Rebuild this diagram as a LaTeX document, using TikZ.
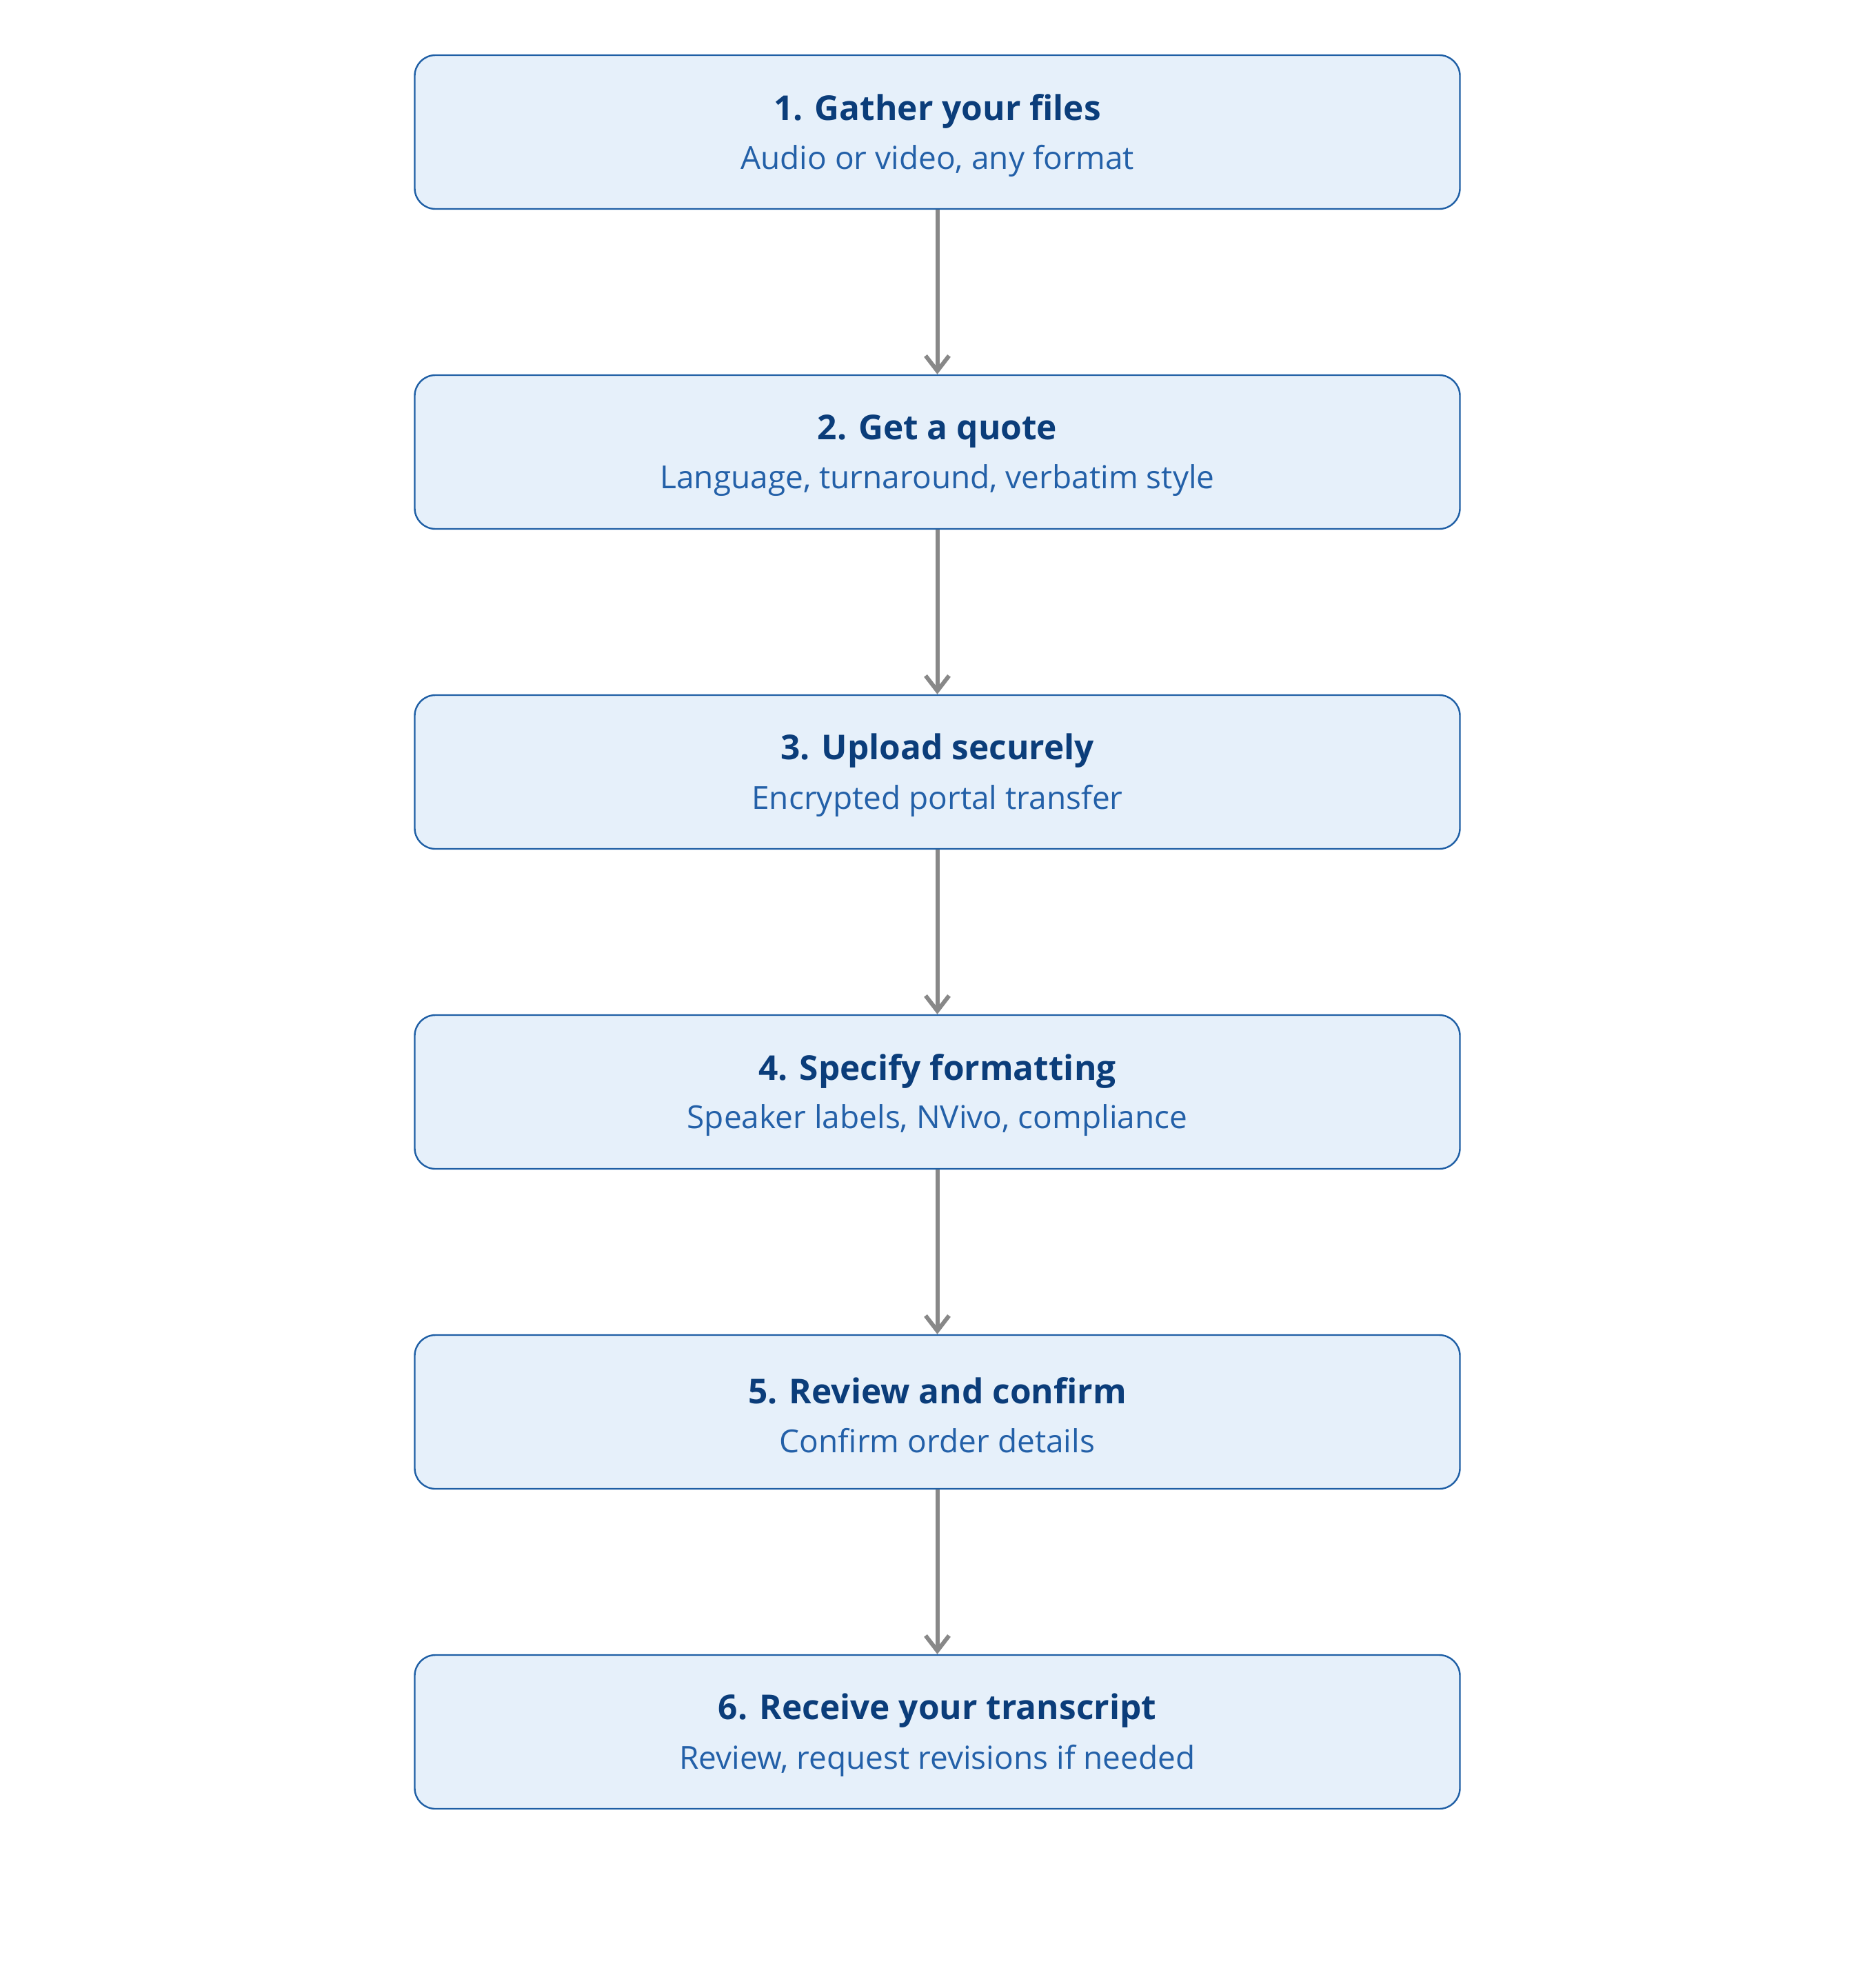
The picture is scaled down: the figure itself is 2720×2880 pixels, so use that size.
\documentclass[tikz,border=0pt]{standalone}
\usepackage{fontspec}
\setmainfont{Open Sans}
\usetikzlibrary{arrows.meta}
\definecolor{boxfill}{HTML}{E6F0FA}
\definecolor{boxdraw}{HTML}{1F5FA5}
\definecolor{titleblue}{HTML}{0B3D7A}
\definecolor{subblue}{HTML}{2360A8}
\definecolor{arrowgray}{HTML}{888888}
\begin{document}
\begin{tikzpicture}[x=0.25pt, y=-0.25pt]
      \tikzset{step box/.style={rectangle, rounded corners=7.5pt, draw=boxdraw, line width=0.6pt,
          fill=boxfill, minimum width=379pt, minimum height=55.75pt, align=center, inner sep=0pt},
        step title/.style={font=\fontsize{12.4}{15}\selectfont\bfseries, text=titleblue},
        step sub/.style={font=\fontsize{11.5}{14}\selectfont, text=subblue},
        flow arrow/.style={draw=arrowgray, line width=1.5pt, -{Straight Barb[length=5.5pt, width=8.5pt, line width=1.5pt]}}}

      % Canvas
      \useasboundingbox (0, 0) rectangle (2720, 2880);

      % Step boxes
      \node[step box] (gather) at (1359.5, 191.5) {};
      \node[step box] (quote) at (1359.5, 655.5) {};
      \node[step box] (upload) at (1359.5, 1119.5) {};
      \node[step box] (format) at (1359.5, 1583.5) {};
      \node[step box] (review) at (1359.5, 2047.5) {};
      \node[step box] (receive) at (1359.5, 2511.5) {};

      % Titles and subtitles
      \node[step title] (gather_t) at (1359.5, 161) {1. Gather your files};
      \node[step sub] (gather_s) at (1359.5, 233) {Audio or video, any format};
      \node[step title] (quote_t) at (1359.5, 625) {2. Get a quote};
      \node[step sub] (quote_s) at (1359.5, 697) {Language, turnaround, verbatim style};
      \node[step title] (upload_t) at (1359.5, 1089) {3. Upload securely};
      \node[step sub] (upload_s) at (1359.5, 1161) {Encrypted portal transfer};
      \node[step title] (format_t) at (1359.5, 1553) {4. Specify formatting};
      \node[step sub] (format_s) at (1359.5, 1625) {Speaker labels, NVivo, compliance};
      \node[step title] (review_t) at (1359.5, 2017) {5. Review and confirm};
      \node[step sub] (review_s) at (1359.5, 2089) {Confirm order details};
      \node[step title] (receive_t) at (1359.5, 2481) {6. Receive your transcript};
      \node[step sub] (receive_s) at (1359.5, 2553) {Review, request revisions if needed};

      % Arrows between steps
      \draw[flow arrow] (gather) -- (quote);
      \draw[flow arrow] (quote) -- (upload);
      \draw[flow arrow] (upload) -- (format);
      \draw[flow arrow] (format) -- (review);
      \draw[flow arrow] (review) -- (receive);

    \end{tikzpicture}
\end{document}
